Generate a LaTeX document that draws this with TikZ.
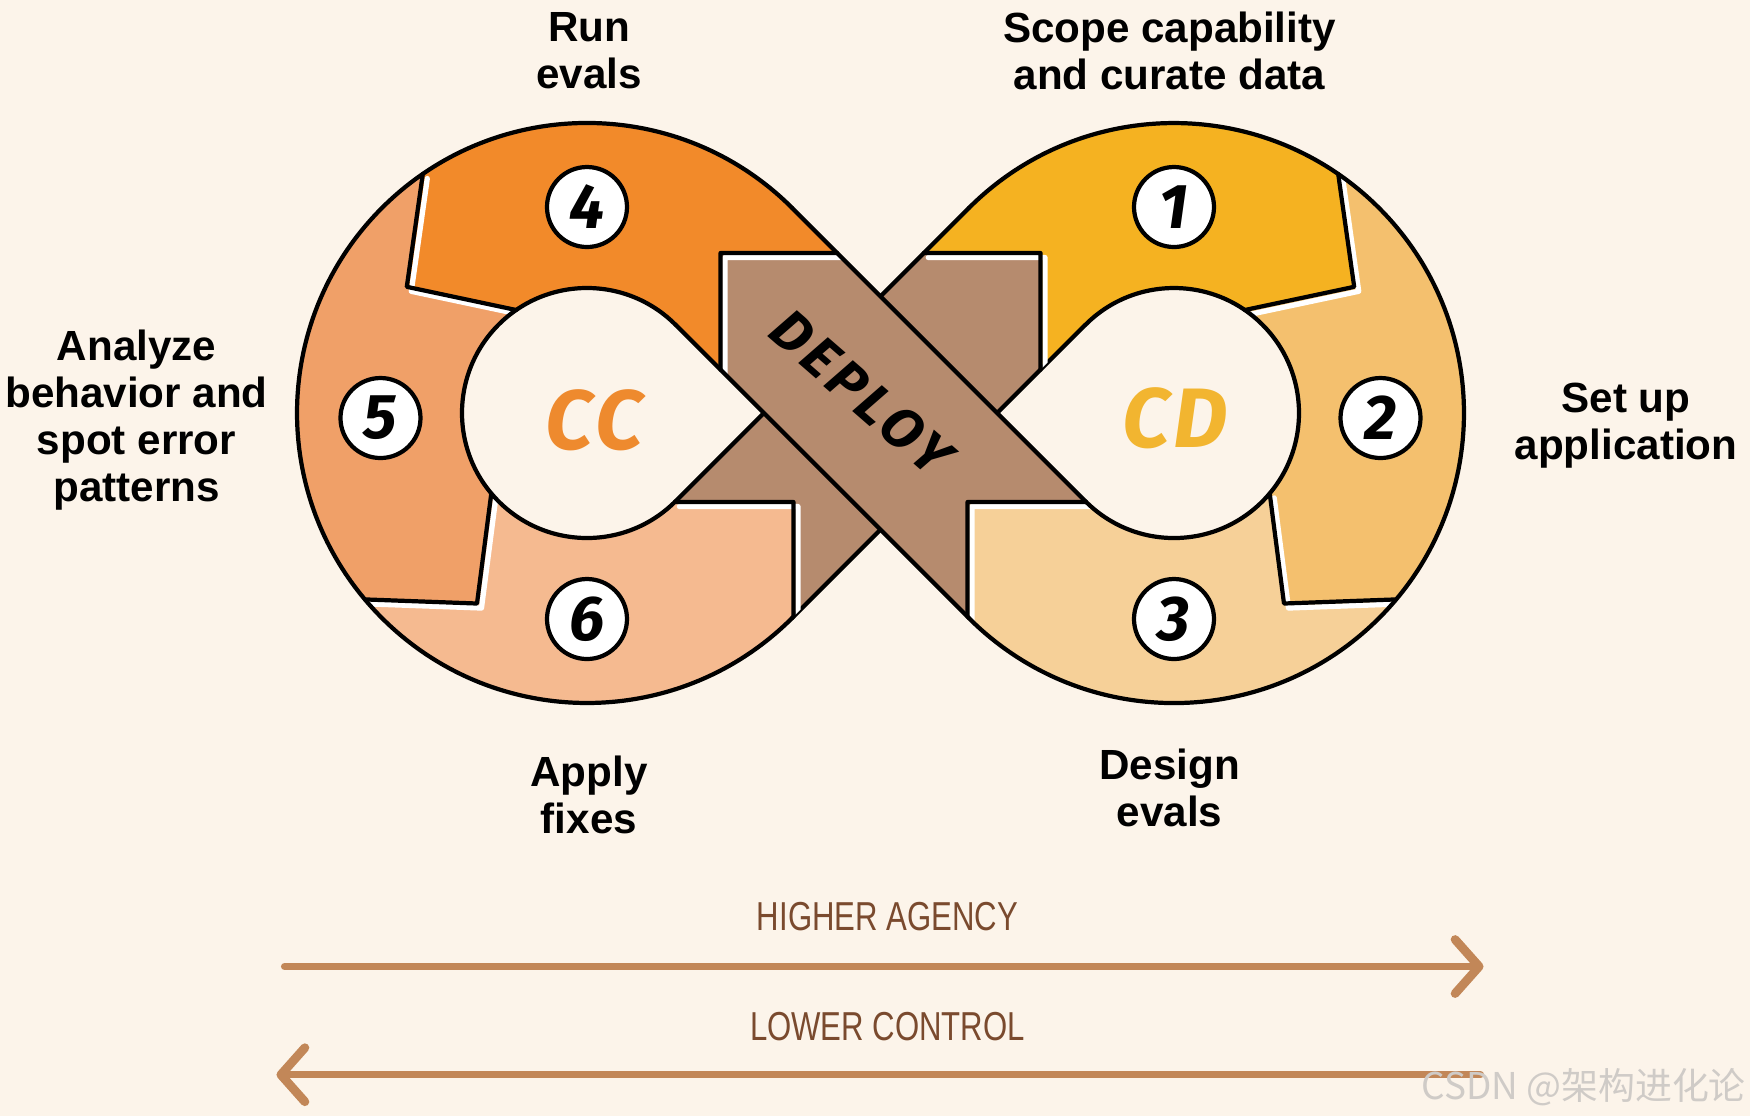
\documentclass[tikz,border=0pt]{standalone}
\usepackage{fontspec}
\setmainfont{Liberation Sans}
\newfontfamily\handfont{Fira Sans}
\newfontfamily\axisfont[FakeStretch=0.77]{Liberation Sans}
\newfontfamily\cjkfont{Noto Sans CJK SC}
\usetikzlibrary{arrows.meta}

\definecolor{paper}{HTML}{FCF4EA}
\definecolor{segone}{HTML}{F5B221}
\definecolor{segtwo}{HTML}{F4C06E}
\definecolor{segthree}{HTML}{F6D098}
\definecolor{segfour}{HTML}{F28A2A}
\definecolor{segfive}{HTML}{F0A068}
\definecolor{segsix}{HTML}{F5BA90}
\definecolor{deploybrown}{HTML}{B68B6E}
\definecolor{ccorange}{HTML}{EE8A2E}
\definecolor{cdgold}{HTML}{F2B530}
\definecolor{axisbrown}{HTML}{C28758}
\definecolor{axistext}{HTML}{7A4A2E}
\definecolor{markgray}{HTML}{CFCBC7}

\begin{document}
\begin{tikzpicture}[
        line cap=round, line join=round,
        edge/.style={draw=black, line width=1.2pt},
        highlight/.style={draw=white, line width=1.5pt},
        ribbon/.style={insert path={(-0.884,2.051) arc[start angle=45, end angle=315, radius=2.9] -- (2.051,0.884) arc[start angle=135, end angle=-135, radius=1.25] -- cycle
            (-2.051,0.884) -- (0.884,-2.051) arc[start angle=-135, end angle=135, radius=2.9] -- (-2.051,-0.884) arc[start angle=315, end angle=45, radius=1.25] -- cycle}},
        deploybox/.style={insert path={(-1.6,1.6) -- (1.6,1.6) -- (1.6,0) -- (2.5,0) -- (2.5,-0.89) -- (0.87,-0.89) -- (0.87,-3) -- (-0.87,-3) -- (-0.87,-0.89) -- (-2.5,-0.89) -- (-2.5,0) -- (-1.6,0) -- cycle}},
        cuts/.style={insert path={(-0.433,1.6) -- (-1.6,1.6) -- (-1.6,0.433)
            (-2.056,-0.89) -- (-0.87,-0.89) -- (-0.87,-2.037)
            (0.433,1.6) -- (1.6,1.6) -- (1.6,0.433)
            (2.056,-0.89) -- (0.87,-0.89) -- (0.87,-2.037)
            (-4.577,2.390) -- (-4.737,1.262) -- (-3.643,1.030)
            (-5.156,-1.864) -- (-4.035,-1.905) -- (-3.892,-0.804)
            (4.577,2.390) -- (4.737,1.262) -- (3.643,1.030)
            (5.156,-1.864) -- (4.035,-1.905) -- (3.892,-0.804)}},
        numbox/.style={circle, draw=black, line width=1.2pt, fill=white, minimum size=0.8cm, inner sep=0pt, font=\handfont\bfseries\itshape\fontsize{18}{18}\selectfont},
        loopname/.style={inner sep=0pt, font=\handfont\bfseries\itshape\fontsize{24}{24}\selectfont\addfontfeatures{LetterSpace=4}},
        stage/.style={align=center, inner sep=0pt, font=\bfseries\fontsize{12}{13.4}\selectfont},
        axislabel/.style={inner sep=0pt, text=axistext, font=\axisfont\fontsize{11.5}{11.5}\selectfont},
        axisarrow/.style={draw=axisbrown, line width=2pt, -{Straight Barb[length=2.4mm, width=5.4mm, line width=2.5pt, round]}}
    ]

    \useasboundingbox (-8.805,-7.03) rectangle (8.695,4.13);
    \fill[paper] (-8.805,-7.03) rectangle (8.695,4.13);

    \coordinate (cl) at (-2.935,0);
    \coordinate (cr) at (2.935,0);

    % left loop 4-5-6, right loop is its mirror 1-2-3
    \begin{scope}
        \clip (-2.935,0) -- (-3.643,1.030) -- (-4.737,1.262) -- (-4.577,2.390) -- (-4.973,2.967) -- (-5,4.5) -- (0,4.5) -- (0,0) -- cycle;
        \fill[segfour, ribbon];
    \end{scope}
    \begin{scope}
        \clip (-2.935,0) -- (-3.643,1.030) -- (-4.737,1.262) -- (-4.577,2.390) -- (-4.973,2.967) -- (-7,4) -- (-7,-4) -- (-5.692,-2.314) -- (-5.156,-1.864) -- (-4.035,-1.905) -- (-3.892,-0.804) -- cycle;
        \fill[segfive, ribbon];
    \end{scope}
    \begin{scope}
        \clip (-2.935,0) -- (-3.892,-0.804) -- (-4.035,-1.905) -- (-5.156,-1.864) -- (-5.692,-2.314) -- (-6,-4.5) -- (0,-4.5) -- (0,0) -- cycle;
        \fill[segsix, ribbon];
    \end{scope}
    \begin{scope}[xscale=-1]
        \begin{scope}
            \clip (-2.935,0) -- (-3.643,1.030) -- (-4.737,1.262) -- (-4.577,2.390) -- (-4.973,2.967) -- (-5,4.5) -- (0,4.5) -- (0,0) -- cycle;
            \fill[segone, ribbon];
        \end{scope}
        \begin{scope}
            \clip (-2.935,0) -- (-3.643,1.030) -- (-4.737,1.262) -- (-4.577,2.390) -- (-4.973,2.967) -- (-7,4) -- (-7,-4) -- (-5.692,-2.314) -- (-5.156,-1.864) -- (-4.035,-1.905) -- (-3.892,-0.804) -- cycle;
            \fill[segtwo, ribbon];
        \end{scope}
        \begin{scope}
            \clip (-2.935,0) -- (-3.892,-0.804) -- (-4.035,-1.905) -- (-5.156,-1.864) -- (-5.692,-2.314) -- (-6,-4.5) -- (0,-4.5) -- (0,0) -- cycle;
            \fill[segthree, ribbon];
        \end{scope}
    \end{scope}

    % deploy crossing
    \begin{scope}
        \clip[deploybox];
        \fill[deploybrown, ribbon];
    \end{scope}
    \draw[edge] (0.884,2.051) -- (-2.051,-0.884);
    \draw[edge] (2.051,0.884) -- (-0.884,-2.051);
    \begin{scope}
        \clip[deploybox];
        \fill[deploybrown] (-0.884,2.051) -- (2.051,-0.884) -- (0.884,-2.051) -- (-2.051,0.884) -- cycle;
    \end{scope}

    \begin{scope}
        \clip[ribbon];
        \draw[highlight, shift={(0.045,-0.045)}, cuts];
    \end{scope}
    \draw[edge, cuts];

    \draw[edge] (-0.884,2.051) arc[start angle=45, end angle=315, radius=2.9];
    \draw[edge] (-2.051,0.884) arc[start angle=45, end angle=315, radius=1.25];
    \draw[edge] (0.884,-2.051) arc[start angle=-135, end angle=135, radius=2.9];
    \draw[edge] (2.051,-0.884) arc[start angle=-135, end angle=135, radius=1.25];
    \draw[edge] (-0.884,2.051) -- (2.051,-0.884);
    \draw[edge] (-2.051,0.884) -- (0.884,-2.051);

    \node[numbox] (n1) at (2.935,2.06) {1};
    \node[numbox] (n2) at (5.0,-0.05) {2};
    \node[numbox] (n3) at (2.935,-2.06) {3};
    \node[numbox] (n4) at (-2.935,2.06) {4};
    \node[numbox] (n5) at (-5.0,-0.05) {5};
    \node[numbox] (n6) at (-2.935,-2.06) {6};

    \node[loopname, text=ccorange] (cc) at (-2.86,-0.07) {CC};
    \node[loopname, text=cdgold] (cd) at (2.95,-0.05) {CD};
    \node[inner sep=0pt, rotate=-41, font=\handfont\bfseries\itshape\fontsize{16}{16}\selectfont\addfontfeatures{LetterSpace=9}] (deploy) at (-0.19,0.2) {DEPLOY};

    \node[stage] (run) at (-2.915,3.62) {Run\\evals};
    \node[stage] (scope) at (2.89,3.62) {Scope capability\\and curate data};
    \node[stage] (setup) at (7.455,-0.13) {Set up\\application};
    \node[stage] (design) at (2.89,-3.75) {Design\\evals};
    \node[stage] (apply) at (-2.915,-3.82) {Apply\\fixes};
    \node[stage] (analyze) at (-7.44,-0.07) {Analyze\\behavior and\\spot error\\patterns};

    \node[axislabel] (agency) at (0.07,-5.04) {HIGHER AGENCY};
    \node[axislabel] (control) at (0.07,-6.14) {LOWER CONTROL};
    \coordinate (agencyA) at (-5.96,-5.535);
    \coordinate (agencyB) at (6.03,-5.535);
    \coordinate (controlA) at (6.0,-6.617);
    \coordinate (controlB) at (-6.04,-6.617);
    \draw[axisarrow] (agencyA) -- (agencyB);
    \draw[axisarrow] (controlA) -- (controlB);

    \node[anchor=base east, inner sep=0pt, text=markgray, font=\cjkfont\fontsize{10.5}{10.5}\selectfont] (mark) at (8.66,-6.86) {CSDN @架构进化论};

\end{tikzpicture}
\end{document}
